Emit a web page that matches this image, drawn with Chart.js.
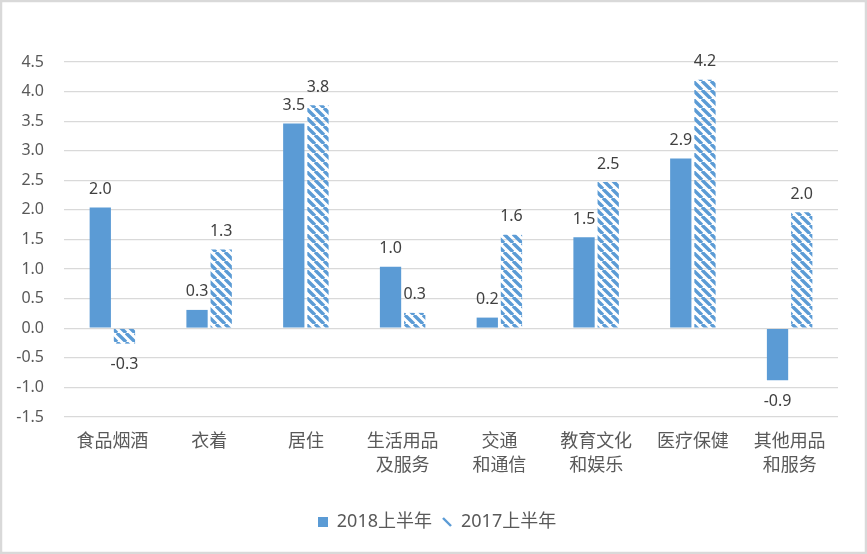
<!DOCTYPE html>
<html>
<head>
<meta charset="utf-8">
<script src="https://cdn.jsdelivr.net/npm/chart.js@4"></script>
<style>
  html, body { margin: 0; padding: 0; background: #fff; }
  #wrap { width: 867px; height: 554px; position: relative; }
</style>
</head>
<body>
<div id="wrap"><canvas id="chart"></canvas></div>
<script>
const categories = [
  '食品烟酒', '衣着', '居住', ['生活用品', '及服务'],
  ['交通', '和通信'], ['教育文化', '和娱乐'], '医疗保健', ['其他用品', '和服务']
];
const seriesNames = ['2018上半年', '2017上半年'];
const values2018 = [2.04, 0.31, 3.46, 1.04, 0.18, 1.54, 2.87, -0.88];
const values2017 = [-0.26, 1.33, 3.77, 0.26, 1.58, 2.47, 4.2, 1.96];
const yTicks = { min: -1.5, max: 4.5, step: 0.5 };

const BLUE = '#5B9BD5';
const FONT = "'Noto Sans', 'Noto Sans CJK SC', sans-serif";

// diagonal "\" stripes for the 2017 series
function makeHatch() {
  const s = 9;
  const c = document.createElement('canvas');
  c.width = s; c.height = s;
  const g = c.getContext('2d');
  g.strokeStyle = BLUE;
  g.lineWidth = 3.4;
  g.beginPath();
  for (const k of [-s, 0, s]) {
    g.moveTo(k, 0);
    g.lineTo(k + s, s);
  }
  g.stroke();
  return g.createPattern(c, 'repeat');
}

function legendIcon(hatched) {
  const c = document.createElement('canvas');
  c.width = 10; c.height = 10;
  const g = c.getContext('2d');
  if (hatched) {
    g.strokeStyle = BLUE;
    g.lineWidth = 2.4;
    g.beginPath();
    g.moveTo(1, 1);
    g.lineTo(9, 9);
    g.stroke();
  } else {
    g.fillStyle = BLUE;
    g.fillRect(0, 0, 10, 10);
  }
  return c;
}

const icons = [legendIcon(false), legendIcon(true)];

const frame = {
  id: 'frame',
  afterLayout(chart) {
    // legend sits a little right of the canvas centre in the original
    chart.legend.left += 18;
    chart.legend.right += 18;
  },
  beforeDraw(chart) {
    const ctx = chart.ctx;
    ctx.save();
    ctx.fillStyle = '#fff';
    ctx.fillRect(0, 0, chart.width, chart.height);
    ctx.restore();
  },
  afterDraw(chart) {
    const ctx = chart.ctx;
    ctx.save();
    ctx.strokeStyle = '#d9d9d9';
    ctx.lineWidth = 2.5;
    ctx.strokeRect(1, 1, chart.width - 2, chart.height - 2);
    ctx.restore();
  }
};

const valueLabels = {
  id: 'valueLabels',
  afterDatasetsDraw(chart) {
    const ctx = chart.ctx;
    ctx.save();
    ctx.font = '16px ' + FONT;
    ctx.fillStyle = '#404040';
    ctx.textAlign = 'center';
    chart.data.datasets.forEach((ds, i) => {
      chart.getDatasetMeta(i).data.forEach((bar, j) => {
        const v = ds.data[j];
        const txt = v.toFixed(1);
        if (v >= 0) {
          ctx.textBaseline = 'bottom';
          ctx.fillText(txt, bar.x, bar.y - 10);
        } else {
          ctx.textBaseline = 'top';
          ctx.fillText(txt, bar.x, bar.y + 13);
        }
      });
    });
    ctx.restore();
  }
};

new Chart(document.getElementById('chart'), {
  type: 'bar',
  data: {
    labels: categories,
    datasets: [
      { label: seriesNames[0], data: values2018, backgroundColor: BLUE },
      { label: seriesNames[1], data: values2017, backgroundColor: makeHatch() }
    ]
  },
  options: {
    responsive: true,
    maintainAspectRatio: false,
    animation: false,
    datasets: { bar: { categoryPercentage: 0.5, barPercentage: 0.88 } },
    layout: { padding: { top: 62, right: 29, bottom: 13, left: 0 } },
    plugins: {
      tooltip: { enabled: false },
      legend: {
        position: 'bottom',
        labels: {
          usePointStyle: true,
          boxWidth: 10,
          boxHeight: 10,
          padding: 10,
          color: '#595959',
          font: { size: 18, family: FONT },
          generateLabels(chart) {
            const items = Chart.defaults.plugins.legend.labels.generateLabels(chart);
            items.forEach((it, i) => { it.pointStyle = icons[i]; });
            return items;
          }
        }
      }
    },
    scales: {
      x: {
        grid: { display: false },
        border: { display: false },
        ticks: {
          color: '#595959',
          font: { size: 18, family: FONT, lineHeight: '24px' },
          maxRotation: 0,
          autoSkip: false,
          padding: 5
        },
        afterFit(scale) { scale.height = 86; }
      },
      y: {
        min: yTicks.min,
        max: yTicks.max,
        grid: { color: '#d9d9d9', lineWidth: 1.3, drawTicks: false },
        border: { display: false },
        ticks: {
          stepSize: yTicks.step,
          color: '#595959',
          font: { size: 16, family: FONT },
          padding: 20,
          callback: v => v.toFixed(1)
        },
        afterFit(scale) { scale.width = 64; }
      }
    }
  },
  plugins: [frame, valueLabels]
});
</script>
</body>
</html>
